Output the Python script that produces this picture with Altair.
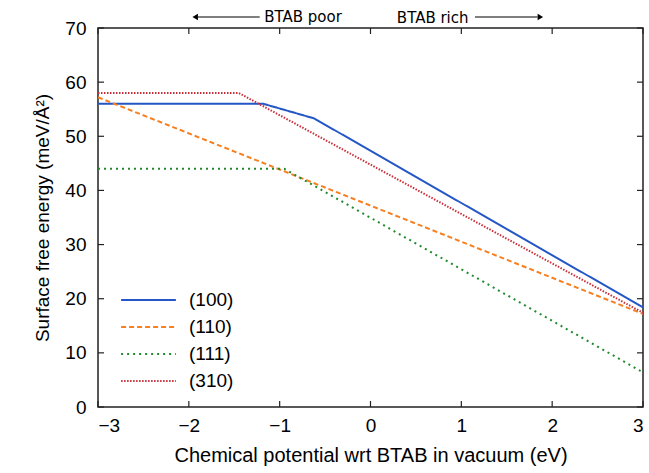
import altair as alt
import pandas as pd

series = ["(100)", "(110)", "(111)", "(310)"]
x100 = [-3, -1.18, -0.62, 3]
y100 = [56, 56, 53.3, 18.4]
x110 = [-3, 3]
y110 = [57.2, 17.2]
x111 = [-3, -0.95, 3]
y111 = [44, 44, 6.4]
x310 = [-3, -1.45, 3]
y310 = [58, 58, 17.4]
x_ticks = [-3, -2, -1, 0, 1, 2, 3]
y_ticks = [0, 10, 20, 30, 40, 50, 60, 70]

colors = ["#2457c5", "#f77f1f", "#1f8a2e", "#c8303a"]
dashes = [[1, 0], [5, 3], [2, 4], [1.5, 1.5]]
widths = [2, 2, 2, 1.6]

rows = []
for name, xs_, ys_ in zip(series, [x100, x110, x111, x310], [y100, y110, y111, y310]):
    for i, (a, b) in enumerate(zip(xs_, ys_)):
        rows.append({"series": name, "x": a, "y": b, "o": i})
df = pd.DataFrame(rows)

W, H = 545, 379
FONT = "Liberation Sans"
xs = alt.Scale(domain=[-3, 3], nice=False)
ys = alt.Scale(domain=[0, 70], nice=False)

leg = alt.Legend(title=None, orient="none", legendX=22, legendY=262, symbolType="stroke",
                 symbolSize=3000, clipHeight=20, rowPadding=7, labelFont=FONT,
                 labelFontSize=19, labelOffset=12, labelColor="black")

lines = alt.Chart(df).mark_line(clip=True).encode(
    x=alt.X("x:Q", scale=xs, axis=alt.Axis(values=x_ticks, format="d", title="Chemical potential wrt BTAB in vacuum (eV)",
                                           ticks=False, domain=False, grid=False, labelFont=FONT,
                                           labelFontSize=19, labelPadding=9, labelColor="black",
                                           titleFont=FONT, titleFontSize=20, titleFontWeight="normal",
                                           titlePadding=10, titleColor="black")),
    y=alt.Y("y:Q", scale=ys, axis=alt.Axis(values=y_ticks, title="Surface free energy (meV/Å²)",
                                           ticks=False, domain=False, grid=False, labelFont=FONT,
                                           labelFontSize=19, labelPadding=12, labelColor="black",
                                           titleFont=FONT, titleFontSize=19, titleFontWeight="normal",
                                           titlePadding=12, titleColor="black")),
    color=alt.Color("series:N", scale=alt.Scale(domain=series, range=colors), legend=leg),
    strokeDash=alt.StrokeDash("series:N", scale=alt.Scale(domain=series, range=dashes), legend=leg),
    strokeWidth=alt.StrokeWidth("series:N", scale=alt.Scale(domain=series, range=widths), legend=leg),
    order="o:Q",
)

xt = pd.DataFrame({"v": x_ticks})
yt = pd.DataFrame({"v": y_ticks})
tk = dict(color="#222", strokeWidth=1.2)
tick_bot = alt.Chart(xt).mark_rule(**tk).encode(x=alt.X("v:Q", scale=xs), y=alt.value(H), y2=alt.value(H - 6))
tick_top = alt.Chart(xt).mark_rule(**tk).encode(x=alt.X("v:Q", scale=xs), y=alt.value(0), y2=alt.value(6))
tick_l = alt.Chart(yt).mark_rule(**tk).encode(y=alt.Y("v:Q", scale=ys), x=alt.value(0), x2=alt.value(6))
tick_r = alt.Chart(yt).mark_rule(**tk).encode(y=alt.Y("v:Q", scale=ys), x=alt.value(W), x2=alt.value(W - 6))

AY = -11
ann_font = "DejaVu Sans"
base = alt.Chart(pd.DataFrame({"a": [0]}))
arr1 = base.mark_rule(color="black", strokeWidth=1.2).encode(
    x=alt.datum(-1.9, scale=xs), x2=alt.datum(-1.22), y=alt.value(AY))
head1 = base.mark_point(shape="triangle-left", filled=True, color="black", size=40, opacity=1).encode(
    x=alt.datum(-1.93, scale=xs), y=alt.value(AY))
txt1 = base.mark_text(text="BTAB poor", font=ann_font, fontSize=15, align="left", baseline="middle").encode(
    x=alt.datum(-1.17, scale=xs), y=alt.value(AY))
txt2 = base.mark_text(text="BTAB rich", font=ann_font, fontSize=15, align="left", baseline="middle").encode(
    x=alt.datum(0.29, scale=xs), y=alt.value(AY + 1))
arr2 = base.mark_rule(color="black", strokeWidth=1.2).encode(
    x=alt.datum(1.15, scale=xs), x2=alt.datum(1.84), y=alt.value(AY))
head2 = base.mark_point(shape="triangle-right", filled=True, color="black", size=40, opacity=1).encode(
    x=alt.datum(1.87, scale=xs), y=alt.value(AY))

chart = alt.layer(lines, tick_bot, tick_top, tick_l, tick_r, arr1, head1, txt1, txt2, arr2, head2).properties(
    width=W, height=H, autosize=alt.AutoSizeParams(type="none"),
    padding={"left": 98, "top": 28, "right": 6, "bottom": 66},
).configure_view(stroke="#222", strokeWidth=1.5)

chart.save("out.html", embed_options={"renderer": "svg", "actions": False})
